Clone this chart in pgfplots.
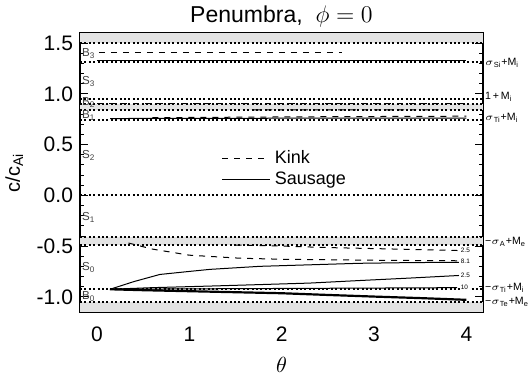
\documentclass[border=0pt]{standalone}
\usepackage{fontspec}
\setmainfont{Liberation Sans}
\usepackage{pgfplots}
\pgfplotsset{compat=1.18}
\begin{document}
\begin{tikzpicture}
\path[use as bounding box] (-40pt,-32pt) rectangle (226pt,156pt);
\begin{axis}[at={(0,0)}, anchor=south west, scale only axis,
 width=201.5pt, height=139.5pt,
 xmin=-0.185, xmax=4.18, ymin=-1.15, ymax=1.6,
 xtick={0,1,2,3,4}, ytick={-1,-0.5,0,0.5,1,1.5},
 minor x tick num=9, minor y tick num=4,
 major tick length=4pt, minor tick length=2pt,
 tick style={line width=0.4pt, black},
 axis line style={line width=0.6pt},
 /pgf/number format/assume math mode=true,
 yticklabel style={/pgf/number format/fixed, /pgf/number format/fixed zerofill, /pgf/number format/precision=1},
 tick label style={font=\fontsize{10.5}{10.5}\selectfont},
 xticklabel style={yshift=-4pt},
 title={Penumbra,\ \ $\phi=0$},
 title style={font=\fontsize{11.5}{11.5}\selectfont, yshift=-6.5pt},
 xlabel={$\theta$}, xlabel style={font=\fontsize{10.5}{10.5}\selectfont, yshift=-1pt},
 ylabel={c/c\textsubscript{Ai}}, ylabel style={font=\fontsize{10}{10}\selectfont, yshift=0pt},
 clip mode=individual,
 legend style={at={(axis cs:1.28,0.525)}, anchor=north west, draw=none, fill=none,
   font=\fontsize{9}{9}\selectfont, row sep=-1.5pt},
 legend cell align=left,
 legend image code/.code={\draw[#1] (0pt,0pt) -- (24pt,0pt);},
 dotline/.style={black, line width=1pt, dash pattern=on 1pt off 1.2pt},
 every axis plot/.append style={line width=0.5pt},
]
\addlegendimage{black, dashed, line width=0.6pt}
\addlegendentry{Kink}
\addlegendimage{black, solid, line width=0.6pt}
\addlegendentry{Sausage}
% grey bands
\addplot[draw=none, fill=gray!22, forget plot] coordinates {(-0.185,1.5) (4.18,1.5) (4.18,1.6) (-0.185,1.6)} -- cycle;
\addplot[draw=none, fill=gray!22, forget plot] coordinates {(-0.185,0.838) (4.18,0.838) (4.18,0.905) (-0.185,0.905)} -- cycle;
\addplot[draw=none, fill=gray!22, forget plot] coordinates {(-0.185,-0.41) (4.18,-0.41) (4.18,-0.49) (-0.185,-0.49)} -- cycle;
\addplot[draw=none, fill=gray!22, forget plot] coordinates {(-0.185,-1.055) (4.18,-1.055) (4.18,-1.15) (-0.185,-1.15)} -- cycle;
% dotted reference lines
\addplot[dotline, forget plot] coordinates {(-0.185,1.5) (4.18,1.5)};
\addplot[dotline, forget plot] coordinates {(-0.185,1.31) (4.18,1.31)};
\addplot[dotline, forget plot] coordinates {(-0.185,0.95) (4.18,0.95)};
\addplot[dotline, forget plot] coordinates {(-0.185,0.905) (4.18,0.905)};
\addplot[dotline, forget plot] coordinates {(-0.185,0.838) (4.18,0.838)};
\addplot[dotline, forget plot] coordinates {(-0.185,0.745) (4.18,0.745)};
\addplot[dotline, forget plot] coordinates {(-0.185,0.0) (4.18,0.0)};
\addplot[dotline, forget plot] coordinates {(-0.185,-0.41) (4.18,-0.41)};
\addplot[dotline, forget plot] coordinates {(-0.185,-0.49) (4.18,-0.49)};
\addplot[dotline, forget plot] coordinates {(-0.185,-0.926) (4.18,-0.926)};
\addplot[dotline, forget plot] coordinates {(-0.185,-1.055) (4.18,-1.055)};
% kink (dashed)
\addplot[black, dashed, forget plot] coordinates {(0.02,1.41) (2.65,1.41)};
\addplot[black, dashed, forget plot] coordinates {(0.0,0.905) (4.0,0.905)};
\addplot[black, dashed, forget plot] coordinates {(0.6,0.765) (1.5,0.770) (2.5,0.775) (4.0,0.78)};
\addplot[black, dashed, forget plot] coordinates {(1.7,0.842) (2.5,0.842) (3.7,0.843)};
\addplot[black, dashed, forget plot] coordinates {(0.34,-0.47) (0.6,-0.53) (1.0,-0.59) (1.55,-0.62) (2.0,-0.63) (3.0,-0.64) (3.9,-0.645)};
\addplot[black, dashed, forget plot] coordinates {(1.5,-0.49) (2.0,-0.50) (2.5,-0.515) (3.0,-0.525) (3.5,-0.535) (3.95,-0.545)};
% sausage (solid)
\addplot[black, forget plot] coordinates {(0.0,1.33) (4.0,1.33)};
\addplot[black, forget plot] coordinates {(0.14,0.757) (1.0,0.758) (2.0,0.760) (3.0,0.760) (4.0,0.760)};
\addplot[black, forget plot] coordinates {(0.14,-0.926) (0.4,-0.85) (0.68,-0.78) (1.0,-0.75) (1.22,-0.73) (1.76,-0.70) (2.3,-0.685) (2.84,-0.67) (3.4,-0.663) (3.92,-0.66)};
\addplot[black, forget plot] coordinates {(0.14,-0.926) (0.6,-0.91) (1.2,-0.895) (1.76,-0.88) (2.3,-0.865) (2.84,-0.84) (3.4,-0.815) (3.92,-0.79)};
\addplot[black, forget plot] coordinates {(0.14,-0.926) (1.0,-0.922) (2.0,-0.918) (3.0,-0.914) (3.9,-0.91)};
\addplot[black, line width=1.1pt, forget plot] coordinates {(0.14,-0.926) (0.5,-0.935) (1.0,-0.945) (1.5,-0.955) (2.0,-0.965) (2.5,-0.982) (3.0,-0.998) (3.5,-1.013) (4.0,-1.03)};
% region labels
\begin{scope}[every node/.style={font=\fontsize{5.8}{5.8}\selectfont, text=black!75, anchor=west, inner sep=0pt}]
\node at (axis cs:-0.165,1.40) {B\textsubscript{3}};
\node at (axis cs:-0.165,1.12) {S\textsubscript{3}};
\node at (axis cs:-0.165,0.91) {B\textsubscript{2}};
\node at (axis cs:-0.165,0.79) {B\textsubscript{1}};
\node at (axis cs:-0.165,0.39) {S\textsubscript{2}};
\node at (axis cs:-0.165,-0.22) {S\textsubscript{1}};
\node at (axis cs:-0.165,-0.71) {S\textsubscript{0}};
\node at (axis cs:-0.165,-0.995) {B\textsubscript{0}};
\end{scope}
% curve end labels
\begin{scope}[every node/.style={font=\fontsize{3.2}{3.2}\selectfont, anchor=west, inner sep=0.3pt, fill=white}]
\node at (axis cs:3.93,-0.545) {2.5};
\node at (axis cs:3.93,-0.655) {8.1};
\node at (axis cs:3.93,-0.79) {2.5};
\node at (axis cs:3.93,-0.91) {10};
\end{scope}
% right labels
\begin{scope}[every node/.style={font=\fontsize{5.3}{5.3}\selectfont, anchor=west, inner sep=0pt}]
\node at (axis cs:4.20,1.31) {$\sigma$\textsubscript{Si}+M\textsubscript{i}};
\node at (axis cs:4.20,0.97) {1\,+\,M\textsubscript{i}};
\node at (axis cs:4.20,0.76) {$\sigma$\textsubscript{Ti}+M\textsubscript{i}};
\node at (axis cs:4.20,-0.46) {−$\sigma$\textsubscript{A}+M\textsubscript{e}};
\node at (axis cs:4.20,-0.91) {−$\sigma$\textsubscript{Ti}+M\textsubscript{i}};
\node at (axis cs:4.20,-1.05) {−$\sigma$\textsubscript{Te}+M\textsubscript{e}};
\end{scope}
\end{axis}
\end{tikzpicture}
\end{document}
